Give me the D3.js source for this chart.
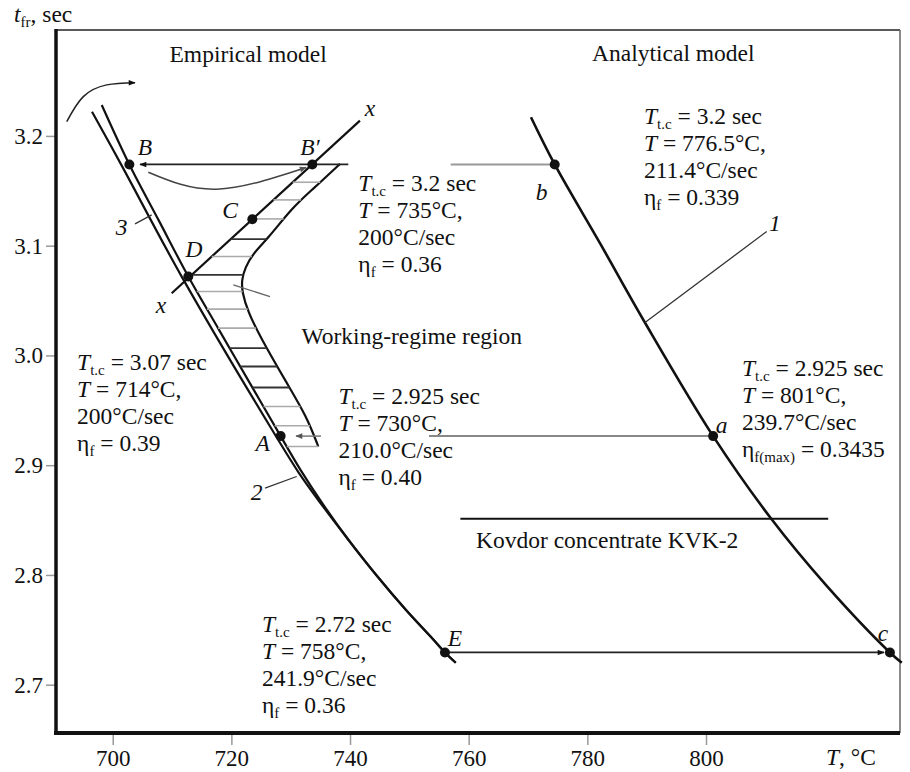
<!DOCTYPE html>
<html>
<head>
<meta charset="utf-8">
<script src="https://cdn.jsdelivr.net/npm/d3@7"></script>
<style>
  body { margin: 0; background: #fff; }
  text { font-family: "Liberation Serif", "Times New Roman", serif; fill: #111; }
</style>
</head>
<body>
<div id="chart"></div>
<script>
// tick values
const xTicks = [700, 720, 740, 760, 780, 800];
const yTicks = [2.7, 2.8, 2.9, 3.0, 3.1, 3.2];

// curve 1 - analytical model
const curve1T = [770.5, 774.5, 782.2, 789.7, 801.2, 811.0, 820.2, 831.0, 833.0];
const curve1V = [3.217, 3.174, 3.1016, 3.030, 2.9265, 2.8512, 2.791, 2.7294, 2.720];

// curve 2 - empirical (inner line)
const curve2T = [698.15, 702.8, 707.8, 712.74, 717.92, 723.09, 728.3, 731.65, 735.51, 739.72, 744.38, 749.4, 754.07, 756.0, 757.82];
const curve2V = [3.2282, 3.174, 3.1226, 3.0719, 3.0233, 2.975, 2.9265, 2.8958, 2.8639, 2.8321, 2.8002, 2.7683, 2.741, 2.7294, 2.720];

// curve 3 - empirical (outer line), joins curve 2 lower down
const curve3T = [696.51, 701.45, 711.65, 727.47, 731.4, 735.24, 739.72, 744.38, 749.4, 754.07, 756.0, 757.82];
const curve3V = [3.2221, 3.1736, 3.0716, 2.9268, 2.8928, 2.8639, 2.8321, 2.8002, 2.7683, 2.741, 2.7294, 2.720];

// x-x line through B', C, D
const xLineT = [741.67, 709.94];
const xLineV = [3.2139, 3.0567];

// boundary of the working-regime region
const boundT = [738.31, 733.59, 730.44, 725.96, 723.70, 722.30, 721.74, 721.79, 722.80, 724.83, 729.33, 732.70, 734.65];
const boundV = [3.1745, 3.1508, 3.1356, 3.1053, 3.0932, 3.0798, 3.0689, 3.0579, 3.0397, 3.0172, 2.9748, 2.9444, 2.9170];

// hatch levels inside the region
const hatchV = [3.1578, 3.1417, 3.1244, 3.1059, 3.0901, 3.0734, 3.0582, 3.0422, 3.0249, 3.0067, 2.9899, 2.9708, 2.9535, 2.9359, 2.9170];

// marked points
const pointNames = ["B", "B'", "C", "D", "A", "E", "b", "a", "c"];
const pointT = [702.8, 733.64, 723.53, 712.74, 728.3, 756.0, 774.5, 801.2, 831.0];
const pointV = [3.174, 3.174, 3.1241, 3.0719, 2.9265, 2.7294, 3.174, 2.9265, 2.7294];

// italic point / curve labels
const labelText = ["B", "B\u2032", "C", "D", "x", "x", "3", "2", "A", "E", "b", "a", "c", "1"];
const labelT = [705.44, 733.25, 719.77, 713.70, 743.37, 708.14, 701.52, 724.27, 725.28, 757.69, 772.31, 802.65, 829.83, 811.63];
const labelV = [3.19, 3.19, 3.1326, 3.0971, 3.2255, 3.0461, 3.1174, 2.876, 2.9201, 2.7425, 3.1487, 2.9368, 2.7471, 3.121];

// leader lines [T1, V1, T2, V2]
const leaders = [
  [789.72, 3.0300, 810.23, 3.1129],
  [703.76, 3.1199, 706.57, 3.1281],
  [725.67, 2.8791, 731.01, 2.8897]
];
const noseTick = [720.33, 3.0643, 726.51, 3.0536];

// horizontal reference lines [T from, T to, value]
const bLine = [756.97, 774.5, 3.174];
const aLine = [753.31, 801.2, 2.9265];
const aArrow = [735.11, 730.9, 2.9265];
const bArrow = [739.71, 704.6, 3.174];
const ecArrow = [756.0, 830.0, 2.7294];
const kovdorLine = [758.6, 820.6, 2.8512];

// curved arrows
const swingT = [706.0, 717.52, 732.6];
const swingV = [3.1669, 3.1515, 3.1712];
const topArrowT = [692.25, 695.04, 698.99, 703.76];
const topArrowV = [3.2130, 3.2358, 3.2465, 3.2485];

const width = 910, height = 772;
const margin = {top: 30, right: 10, bottom: 39, left: 56};
const fs = 23.5, subFs = 15, subShift = 4.5;

const x = d3.scaleLinear().domain([690.44, 832.7]).range([margin.left, width - margin.right]);
const y = d3.scaleLinear().domain([2.656, 3.2965]).range([height - margin.bottom, margin.top]);

const svg = d3.select("#chart").append("svg")
    .attr("width", width)
    .attr("height", height);

const defs = svg.append("defs");
function marker(id, color) {
    defs.append("marker")
        .attr("id", id)
        .attr("viewBox", "0 0 10 10")
        .attr("refX", 9).attr("refY", 5)
        .attr("markerWidth", 9).attr("markerHeight", 7)
        .attr("markerUnits", "userSpaceOnUse")
        .attr("orient", "auto")
        .append("path")
        .attr("d", "M0,1 L10,5 L0,9 Z")
        .attr("fill", color);
}
marker("arr", "#111");
marker("arrGray", "#555");

// axes
const yAxis = svg.append("g")
    .attr("transform", `translate(${margin.left},0)`)
    .call(d3.axisLeft(y).tickValues(yTicks).tickFormat(d3.format(".1f")).tickSize(10).tickPadding(3));
const xAxis = svg.append("g")
    .attr("transform", `translate(0,${height - margin.bottom})`)
    .call(d3.axisBottom(x).tickValues(xTicks).tickFormat(d3.format("d")).tickSize(12).tickPadding(5));
[xAxis, yAxis].forEach(a => {
    a.attr("font-family", "'Liberation Serif', serif").attr("font-size", 23);
    a.select(".domain").remove();
    a.selectAll(".tick line").attr("stroke", "#999").attr("stroke-width", 1.5);
    a.selectAll(".tick text").attr("fill", "#222");
});

// frame
const x0 = x.range()[0], x1 = x.range()[1], y0 = y.range()[0], y1 = y.range()[1];
svg.append("line").attr("x1", x0).attr("x2", x1).attr("y1", y1).attr("y2", y1)
    .attr("stroke", "#222").attr("stroke-width", 1.5);
svg.append("line").attr("x1", x1).attr("x2", x1).attr("y1", y1).attr("y2", y0)
    .attr("stroke", "#666").attr("stroke-width", 1.5);
svg.append("line").attr("x1", x0).attr("x2", x0).attr("y1", y1 - 1).attr("y2", y0 + 2)
    .attr("stroke", "#111").attr("stroke-width", 3.5);
svg.append("line").attr("x1", x0 - 2).attr("x2", x1).attr("y1", y0).attr("y2", y0)
    .attr("stroke", "#111").attr("stroke-width", 4);

// axis titles
const yTitle = svg.append("text").attr("x", 14).attr("y", 22).style("font-size", fs + "px");
yTitle.append("tspan").text("t").style("font-style", "italic");
yTitle.append("tspan").text("fr").attr("dy", subShift).style("font-size", subFs + "px");
yTitle.append("tspan").text(", sec").attr("dy", -subShift);

const xTitle = svg.append("text").attr("x", 826).attr("y", 765).style("font-size", fs + "px");
xTitle.append("tspan").text("T").style("font-style", "italic");
xTitle.append("tspan").text(", \u00b0C");

const g = svg.append("g");

const lineGen = (curve) => d3.line().x(d => x(d[0])).y(d => y(d[1])).curve(curve);
const zip = (a, b) => a.map((v, i) => [v, b[i]]);

// curves
const c1 = g.append("path").datum(zip(curve1T, curve1V))
    .attr("d", lineGen(d3.curveCatmullRom.alpha(0.5)))
    .attr("fill", "none").attr("stroke", "#111").attr("stroke-width", 2.6);
const c3 = g.append("path").datum(zip(curve3T, curve3V))
    .attr("d", lineGen(d3.curveCatmullRom.alpha(0.5)))
    .attr("fill", "none").attr("stroke", "#111").attr("stroke-width", 2.2);
const c2 = g.append("path").datum(zip(curve2T, curve2V))
    .attr("d", lineGen(d3.curveCatmullRom.alpha(0.5)))
    .attr("fill", "none").attr("stroke", "#111").attr("stroke-width", 2.2);
const xl = g.append("path").datum(zip(xLineT, xLineV))
    .attr("d", lineGen(d3.curveLinear))
    .attr("fill", "none").attr("stroke", "#111").attr("stroke-width", 2.2);
const bd = g.append("path").datum(zip(boundT, boundV))
    .attr("d", lineGen(d3.curveBasis))
    .attr("fill", "none").attr("stroke", "#111").attr("stroke-width", 2.2);

// sample a path so hatch lines meet the drawn curves
function sampler(node) {
    const L = node.getTotalLength();
    const pts = d3.range(0, 601).map(i => node.getPointAtLength(L * i / 600));
    return py => {
        for (let i = 1; i < pts.length; i++) {
            const a = pts[i - 1], b = pts[i];
            if ((a.y - py) * (b.y - py) <= 0) {
                const t = b.y === a.y ? 0 : (py - a.y) / (b.y - a.y);
                return a.x + t * (b.x - a.x);
            }
        }
        return null;
    };
}
const atX = sampler(xl.node()), atC2 = sampler(c2.node()), atBd = sampler(bd.node());
const dV = pointV[pointNames.indexOf("D")];
const darkHatch = new Set([3, 5, 9, 10, 11]);
hatchV.forEach((v, i) => {
    const py = y(v);
    const xin = v > dV ? atX(py) : atC2(py);
    const xout = atBd(py);
    if (xin == null || xout == null) return;
    g.append("line")
        .attr("x1", xin).attr("x2", xout).attr("y1", py).attr("y2", py)
        .attr("stroke", darkHatch.has(i) ? "#333" : "#aaa")
        .attr("stroke-width", darkHatch.has(i) ? 1.8 : 1.6);
});

// horizontal lines
g.append("line").attr("x1", x(bLine[0])).attr("x2", x(bLine[1])).attr("y1", y(bLine[2])).attr("y2", y(bLine[2]))
    .attr("stroke", "#999").attr("stroke-width", 2);
g.append("line").attr("x1", x(aLine[0])).attr("x2", x(aLine[1])).attr("y1", y(aLine[2])).attr("y2", y(aLine[2]))
    .attr("stroke", "#888").attr("stroke-width", 2);
g.append("line").attr("x1", x(aArrow[0])).attr("x2", x(aArrow[1])).attr("y1", y(aArrow[2])).attr("y2", y(aArrow[2]))
    .attr("stroke", "#777").attr("stroke-width", 1.5).attr("marker-end", "url(#arrGray)");
g.append("line").attr("x1", x(bArrow[0])).attr("x2", x(bArrow[1])).attr("y1", y(bArrow[2])).attr("y2", y(bArrow[2]))
    .attr("stroke", "#222").attr("stroke-width", 1.8).attr("marker-end", "url(#arr)");
g.append("line").attr("x1", x(ecArrow[0])).attr("x2", x(ecArrow[1])).attr("y1", y(ecArrow[2])).attr("y2", y(ecArrow[2]))
    .attr("stroke", "#222").attr("stroke-width", 1.8).attr("marker-end", "url(#arr)");
g.append("line").attr("x1", x(kovdorLine[0])).attr("x2", x(kovdorLine[1])).attr("y1", y(kovdorLine[2])).attr("y2", y(kovdorLine[2]))
    .attr("stroke", "#111").attr("stroke-width", 2.2);

// curved arrows
g.append("path").datum(zip(swingT, swingV))
    .attr("d", lineGen(d3.curveNatural))
    .attr("fill", "none").attr("stroke", "#444").attr("stroke-width", 1.5).attr("marker-end", "url(#arrGray)");
g.append("path").datum(zip(topArrowT, topArrowV))
    .attr("d", lineGen(d3.curveNatural))
    .attr("fill", "none").attr("stroke", "#222").attr("stroke-width", 1.5).attr("marker-end", "url(#arr)");

// leaders
leaders.forEach(l => {
    g.append("line").attr("x1", x(l[0])).attr("y1", y(l[1])).attr("x2", x(l[2])).attr("y2", y(l[3]))
        .attr("stroke", "#333").attr("stroke-width", 1.3);
});
g.append("line").attr("x1", x(noseTick[0])).attr("y1", y(noseTick[1])).attr("x2", x(noseTick[2])).attr("y2", y(noseTick[3]))
    .attr("stroke", "#666").attr("stroke-width", 1.3);

// points
g.selectAll("circle.pt").data(pointNames).join("circle")
    .attr("class", "pt")
    .attr("cx", (d, i) => x(pointT[i]))
    .attr("cy", (d, i) => y(pointV[i]))
    .attr("r", 5)
    .attr("fill", "#111");

// point labels
g.selectAll("text.lbl").data(labelText).join("text")
    .attr("class", "lbl")
    .attr("x", (d, i) => x(labelT[i]))
    .attr("y", (d, i) => y(labelV[i]))
    .attr("dy", "0.35em")
    .attr("text-anchor", "middle")
    .style("font-style", "italic")
    .style("font-size", fs + "px")
    .text(d => d);

// annotation blocks
const lineH = 27;
function block(T, v, lines) {
    const t = g.append("text").attr("x", x(T)).attr("y", Math.round(y(v))).style("font-size", fs + "px");
    lines.forEach((ln, i) => {
        let shift = 0;
        ln.forEach((seg, j) => {
            const ts = t.append("tspan").text(seg[0]);
            let dy = 0;
            if (j === 0) { ts.attr("x", x(T)); dy = i === 0 ? 0 : lineH; }
            if (seg[1] === "s") { dy += subShift - shift; shift = subShift; ts.style("font-size", subFs + "px"); }
            else { dy += -shift; shift = 0; }
            if (seg[1] === "i") ts.style("font-style", "italic");
            if (dy) ts.attr("dy", dy);
        });
    });
}
const tc = v => [["T", "i"], ["t.c", "s"], [" = " + v + " sec"]];
const tt = v => [["T", "i"], [" = " + v + "\u00b0C,"]];
const rate = v => [[v + "\u00b0C/sec"]];
const eta = (s, v) => [["\u03b7"], [s, "s"], [" = " + v]];

block(789.55, 3.2109, [tc("3.2"), tt("776.5"), rate("211.4"), eta("f", "0.339")]);
block(741.4, 3.1499, [tc("3.2"), tt("735"), rate("200"), eta("f", "0.36")]);
block(806.07, 2.9814, [tc("2.925"), tt("801"), rate("239.7"), eta("f(max)", "0.3435")]);
block(738.06, 2.9559, [tc("2.925"), tt("730"), rate("210.0"), eta("f", "0.40")]);
block(694.0, 2.9864, [tc("3.07"), tt("714"), rate("200"), eta("f", "0.39")]);
block(725.16, 2.7478, [tc("2.72"), tt("758"), rate("241.9"), eta("f", "0.36")]);

// region titles
g.append("text").attr("x", x(722.83)).attr("y", y(3.2669)).attr("text-anchor", "middle")
    .style("font-size", fs + "px").text("Empirical model");
g.append("text").attr("x", x(794.49)).attr("y", y(3.2683)).attr("text-anchor", "middle")
    .style("font-size", fs + "px").text("Analytical model");
g.append("text").attr("x", x(731.82)).attr("y", y(3.0106))
    .style("font-size", fs + "px").text("Working-regime region");
g.append("text").attr("x", x(761.23)).attr("y", y(2.8248))
    .style("font-size", fs + "px").text("Kovdor concentrate KVK-2");
</script>
</body>
</html>
